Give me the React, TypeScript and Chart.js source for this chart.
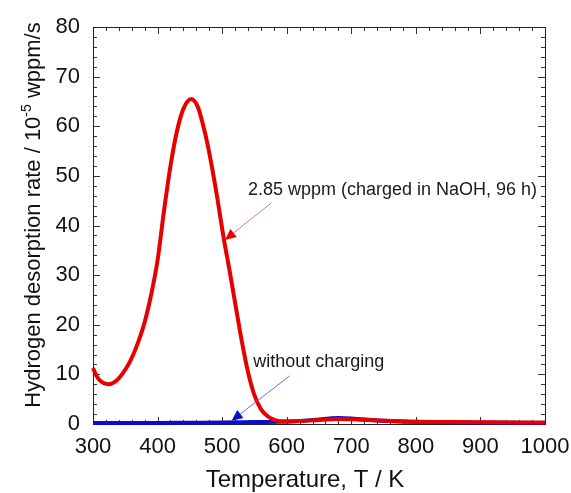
import React, { useEffect, useRef } from "react";
import { Chart, registerables } from "chart.js";

Chart.register(...registerables);

// ---- data ----
const chargedT = [300, 305, 312, 323, 335, 345, 357, 370, 380, 390, 400, 410, 420, 430, 440, 452, 462, 470, 478, 490, 503, 510, 520, 530, 540, 550, 560, 570, 580, 595, 620, 650, 680, 710, 740, 780, 850, 920, 1000];
const chargedRate = [11.3, 9.8, 8.6, 8.0, 8.6, 10.0, 12.5, 16.5, 20.5, 26.0, 33.0, 43.0, 52.0, 59.0, 63.5, 65.5, 64.0, 60.5, 56.0, 47.5, 37.0, 32.0, 24.5, 17.0, 10.5, 5.8, 3.0, 1.6, 0.9, 0.5, 0.6, 0.8, 1.0, 0.9, 0.7, 0.5, 0.4, 0.35, 0.3];

const unchargedT = [300, 350, 400, 450, 500, 550, 600, 640, 680, 700, 740, 780, 820, 880, 950, 1000];
const unchargedRate = [0.2, 0.2, 0.2, 0.25, 0.3, 0.4, 0.5, 0.8, 1.2, 1.1, 0.7, 0.5, 0.4, 0.3, 0.25, 0.2];

const xMin = 300;
const xMax = 1000;
const xStep = 100;
const xMinorStep = 20;
const yMin = 0;
const yMax = 80;
const yStep = 10;
const yMinorStep = 2;

const xTitle = "Temperature, T / K";
const yTitleMain = "Hydrogen desorption rate / 10";
const yTitleSup = "-5";
const yTitleTail = " wppm/s";

const chargedLabel = "2.85 wppm (charged in NaOH, 96 h)";
const chargedLabelAt = [540, 46.2];
const chargedArrowFrom = [576.6, 44.6];
const chargedArrowTo = [504.3, 37.1];

const unchargedLabel = "without charging";
const unchargedLabelAt = [548, 11.55];
const unchargedArrowFrom = [604.6, 9.7];
const unchargedArrowTo = [514.7, 0.67];

const FONT = "'Liberation Sans', Arial, Helvetica, sans-serif";
const RED = "#e60000";
const BLUE = "#0a0ad0";

const toPoints = (xs: number[], ys: number[]) => xs.map((x, i) => ({ x, y: ys[i] }));

const framePlugin = {
  id: "frameTicks",
  beforeDatasetsDraw(chart: any) {
    const { ctx, chartArea } = chart;
    const xs = chart.scales.x;
    const ys = chart.scales.y;
    const { left, right, top, bottom } = chartArea;
    ctx.save();
    ctx.strokeStyle = "#333";
    ctx.lineWidth = 1;
    ctx.beginPath();
    for (let v = xMin; v <= xMax + 1e-6; v += xMinorStep) {
      const px = Math.round(xs.getPixelForValue(v)) + 0.5;
      const len = (v - xMin) % xStep === 0 ? 7 : 4;
      ctx.moveTo(px, bottom);
      ctx.lineTo(px, bottom - len);
      ctx.moveTo(px, top);
      ctx.lineTo(px, top + len);
    }
    for (let v = yMin; v <= yMax + 1e-6; v += yMinorStep) {
      const py = Math.round(ys.getPixelForValue(v)) + 0.5;
      const len = (v - yMin) % yStep === 0 ? 7 : 4;
      ctx.moveTo(left, py);
      ctx.lineTo(left + len, py);
      ctx.moveTo(right, py);
      ctx.lineTo(right - len, py);
    }
    ctx.stroke();
    ctx.strokeStyle = "#222";
    ctx.strokeRect(Math.round(left) + 0.5, Math.round(top) + 0.5, Math.round(right - left), Math.round(bottom - top));
    ctx.restore();
  },
  afterDatasetsDraw(chart: any) {
    const { ctx } = chart;
    const xs = chart.scales.x;
    const ys = chart.scales.y;
    const drawArrow = (from: number[], to: number[], lineColor: string, headColor: string) => {
      const x1 = xs.getPixelForValue(from[0]);
      const y1 = ys.getPixelForValue(from[1]);
      const x2 = xs.getPixelForValue(to[0]);
      const y2 = ys.getPixelForValue(to[1]);
      const ang = Math.atan2(y2 - y1, x2 - x1);
      const headLen = 11;
      const headW = 5;
      ctx.save();
      ctx.strokeStyle = lineColor;
      ctx.lineWidth = 1;
      ctx.beginPath();
      ctx.moveTo(x1, y1);
      ctx.lineTo(x2 - Math.cos(ang) * headLen * 0.8, y2 - Math.sin(ang) * headLen * 0.8);
      ctx.stroke();
      ctx.fillStyle = headColor;
      ctx.beginPath();
      ctx.moveTo(x2, y2);
      const bx = x2 - Math.cos(ang) * headLen;
      const by = y2 - Math.sin(ang) * headLen;
      ctx.lineTo(bx + Math.sin(ang) * headW, by - Math.cos(ang) * headW);
      ctx.lineTo(bx - Math.sin(ang) * headW, by + Math.cos(ang) * headW);
      ctx.closePath();
      ctx.fill();
      ctx.restore();
    };
    drawArrow(chargedArrowFrom, chargedArrowTo, "#f07070", RED);
    drawArrow(unchargedArrowFrom, unchargedArrowTo, "#6a6af0", BLUE);

    ctx.save();
    ctx.fillStyle = "#1a1a1a";
    ctx.font = `18px ${FONT}`;
    ctx.textBaseline = "alphabetic";
    ctx.textAlign = "left";
    ctx.fillText(chargedLabel, xs.getPixelForValue(chargedLabelAt[0]), ys.getPixelForValue(chargedLabelAt[1]));
    ctx.fillText(unchargedLabel, xs.getPixelForValue(unchargedLabelAt[0]), ys.getPixelForValue(unchargedLabelAt[1]));
    ctx.restore();
  },
  afterDraw(chart: any) {
    const { ctx } = chart;
    ctx.save();
    ctx.fillStyle = "#111";
    // x title
    ctx.font = `24px ${FONT}`;
    ctx.textAlign = "center";
    ctx.textBaseline = "alphabetic";
    ctx.fillText(xTitle, 305, 487);
    // y title with superscript
    const main = `22px ${FONT}`;
    const sup = `14px ${FONT}`;
    ctx.font = main;
    const w1 = ctx.measureText(yTitleMain).width;
    const w3 = ctx.measureText(yTitleTail).width;
    ctx.font = sup;
    const w2 = ctx.measureText(yTitleSup).width;
    const total = w1 + w2 + w3;
    ctx.translate(40, 215);
    ctx.rotate(-Math.PI / 2);
    ctx.textAlign = "left";
    let x = -total / 2;
    ctx.font = main;
    ctx.fillText(yTitleMain, x, 0);
    x += w1;
    ctx.font = sup;
    ctx.fillText(yTitleSup, x, -9);
    x += w2;
    ctx.font = main;
    ctx.fillText(yTitleTail, x, 0);
    ctx.restore();
  },
};

export default function App() {
  const ref = useRef<HTMLCanvasElement | null>(null);
  useEffect(() => {
    if (!ref.current) return;
    const chart = new Chart(ref.current, {
      type: "line",
      data: {
        datasets: [
          {
            label: "charged",
            data: toPoints(chargedT, chargedRate),
            borderColor: RED,
            borderWidth: 4,
            pointRadius: 0,
            cubicInterpolationMode: "monotone",
            fill: false,
            clip: 6,
            order: 1,
          },
          {
            label: "uncharged",
            data: toPoints(unchargedT, unchargedRate),
            borderColor: BLUE,
            borderWidth: 4,
            pointRadius: 0,
            cubicInterpolationMode: "monotone",
            fill: false,
            clip: 6,
            order: 2,
          },
        ],
      },
      options: {
        responsive: false,
        animation: false,
        events: [],
        layout: { padding: { top: 27, right: 26, left: 0, bottom: 0 } },
        plugins: { legend: { display: false }, tooltip: { enabled: false }, title: { display: false } },
        scales: {
          x: {
            type: "linear",
            min: xMin,
            max: xMax,
            grid: { display: false, drawTicks: false },
            border: { display: false },
            ticks: {
              stepSize: xStep,
              padding: 10,
              color: "#111",
              font: { family: FONT, size: 22 },
              maxRotation: 0,
              callback: (v: any) => String(v),
            },
            afterFit: (s: any) => {
              s.height = 69;
              s.paddingLeft = 0;
              s.paddingRight = 0;
            },
          },
          y: {
            type: "linear",
            min: yMin,
            max: yMax,
            grid: { display: false, drawTicks: false },
            border: { display: false },
            ticks: { stepSize: yStep, padding: 13, color: "#111", font: { family: FONT, size: 22 }, callback: (v: any) => String(v) },
            afterFit: (s: any) => {
              s.width = 93;
              s.paddingTop = 0;
              s.paddingBottom = 0;
            },
          },
        },
      },
      plugins: [framePlugin],
    } as any);
    return () => chart.destroy();
  }, []);
  return (
    <div style={{ position: "fixed", left: 0, top: 0, width: 571, height: 493, background: "#fff" }}>
      <canvas ref={ref} width={571} height={493} style={{ display: "block" }} />
    </div>
  );
}
